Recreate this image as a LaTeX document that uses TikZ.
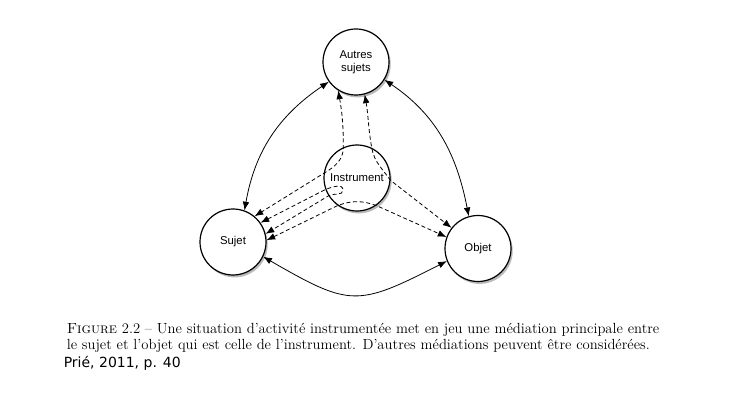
\documentclass[tikz,border=0pt]{standalone}
\usepackage{fontspec}
\setsansfont{Liberation Sans}
\newfontfamily\sourcefont{DejaVu Sans}
\usetikzlibrary{arrows.meta,shadows}

\begin{document}
\begin{tikzpicture}[x=0.75pt,y=0.75pt,
    pole/.style={circle, draw, line width=0.9pt, fill=white, minimum size=49.5pt,
        inner sep=0pt, align=center, font=\sffamily\fontsize{8.5}{10}\selectfont,
        drop shadow={shadow xshift=1.3pt, shadow yshift=-1.8pt, opacity=0.45, fill=black!60}},
    link/.style={<->, >={Latex[length=6.5pt,width=5pt]}, line width=0.6pt},
    mediation/.style={link, dash pattern=on 3pt off 2pt}]
    \useasboundingbox (0,0) rectangle (741,400);

    \node[pole] (autres) at (356,338) {Autres\\sujets};
    \node[pole] (instr) at (357,222) {Instrument};
    \node[pole] (sujet) at (233,158) {Sujet};
    \node[pole] (objet) at (478,151.5) {Objet};

    % direct relations
    \draw[link] (sujet.70) to[out=80,in=214] (autres.216);
    \draw[link] (autres.-32) to[out=-34,in=101] (objet.106);
    \draw[link] (sujet.-26) to[out=-30,in=207,looseness=1.4] (objet.202);

    % mediations through the instrument
    \draw[mediation] (autres.-122) to[out=-80,in=90] (instr.114)
        to[out=-90,in=30] (instr.172) -- (sujet.50);
    \draw[mediation] (autres.-75) to[out=-80,in=100] (instr.64)
        to[out=-80,in=125] (instr.-4) -- (objet.142);
    \coordinate (boucle) at (343,210);
    \draw[mediation] (sujet.35) -- (instr.200) to[out=20,in=90] (boucle)
        to[out=-90,in=30] (instr.212) -- (sujet.14);
    \draw[mediation] (sujet.3) -- (instr.235) to[out=20,in=160] (instr.-55)
        -- (objet.160);

    \node[anchor=base west, inner sep=0pt, font=\fontsize{11}{12}\selectfont] (legende1)
        at (66.5,66.7) {\textsc{Figure} 2.2 -- Une situation d'activité instrumentée met en jeu une médiation principale entre};
    \node[anchor=base west, inner sep=0pt, font=\fontsize{11}{12}\selectfont] (legende2)
        at (66.5,50.7) {le sujet et l'objet qui est celle de l'instrument. D'autres médiations peuvent être considérées.};
    \node[anchor=base west, inner sep=0pt, font=\sourcefont\fontsize{10.5}{12}\selectfont] (source)
        at (63.5,33) {Prié, 2011, p. 40};
\end{tikzpicture}
\end{document}
